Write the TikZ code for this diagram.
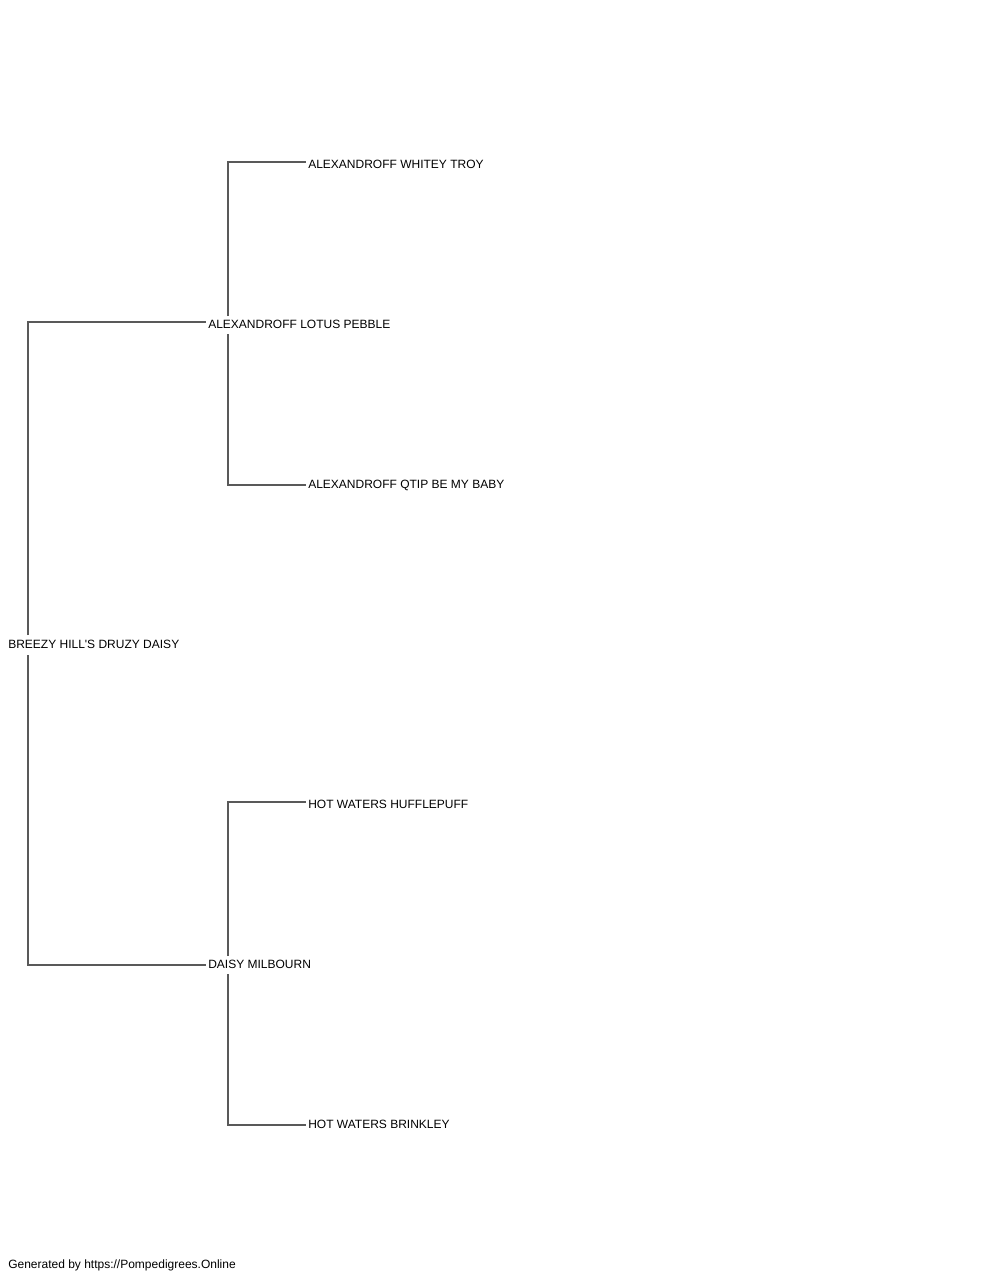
\documentclass[tikz,border=0pt]{standalone}
\usepackage{fontspec}
\setmainfont{Liberation Sans}
\begin{document}
\begin{tikzpicture}[x=0.75pt,y=-0.75pt,
  lbl/.style={anchor=base west,inner sep=0pt,font=\fontsize{9}{10}\selectfont},
  ln/.style={draw=black!65,line width=0.8pt}]
\useasboundingbox (0,0) rectangle (1000,1280);
% texts
\node[lbl] (root) at (8,648) {BREEZY HILL\textquotesingle S DRUZY DAISY};
\node[lbl] (sire) at (208,328) {ALEXANDROFF LOTUS PEBBLE};
\node[lbl] (dam) at (208,968) {DAISY MILBOURN};
\node[lbl] (ss) at (308,168.5) {ALEXANDROFF WHITEY TROY};
\node[lbl] (sd) at (308,488) {ALEXANDROFF QTIP BE MY BABY};
\node[lbl] (ds) at (308,808) {HOT WATERS HUFFLEPUFF};
\node[lbl] (dd) at (308,1128) {HOT WATERS BRINKLEY};
\node[lbl] (foot) at (8,1268) {Generated by https://Pompedigrees.Online};
% connector points
\coordinate (rtop) at (28,635);
\coordinate (rbot) at (28,655);
\coordinate (sireL) at (206,322);
\coordinate (damL) at (206,965);
\coordinate (stop) at (228,316);
\coordinate (sbot) at (228,334);
\coordinate (ssL) at (306,162);
\coordinate (sdL) at (306,485);
\coordinate (dtop) at (228,956);
\coordinate (dbot) at (228,974);
\coordinate (dsL) at (306,802);
\coordinate (ddL) at (306,1125);
% connectors
\draw[ln] (rtop) |- (sireL);
\draw[ln] (rbot) |- (damL);
\draw[ln] (stop) |- (ssL);
\draw[ln] (sbot) |- (sdL);
\draw[ln] (dtop) |- (dsL);
\draw[ln] (dbot) |- (ddL);
\end{tikzpicture}
\end{document}
